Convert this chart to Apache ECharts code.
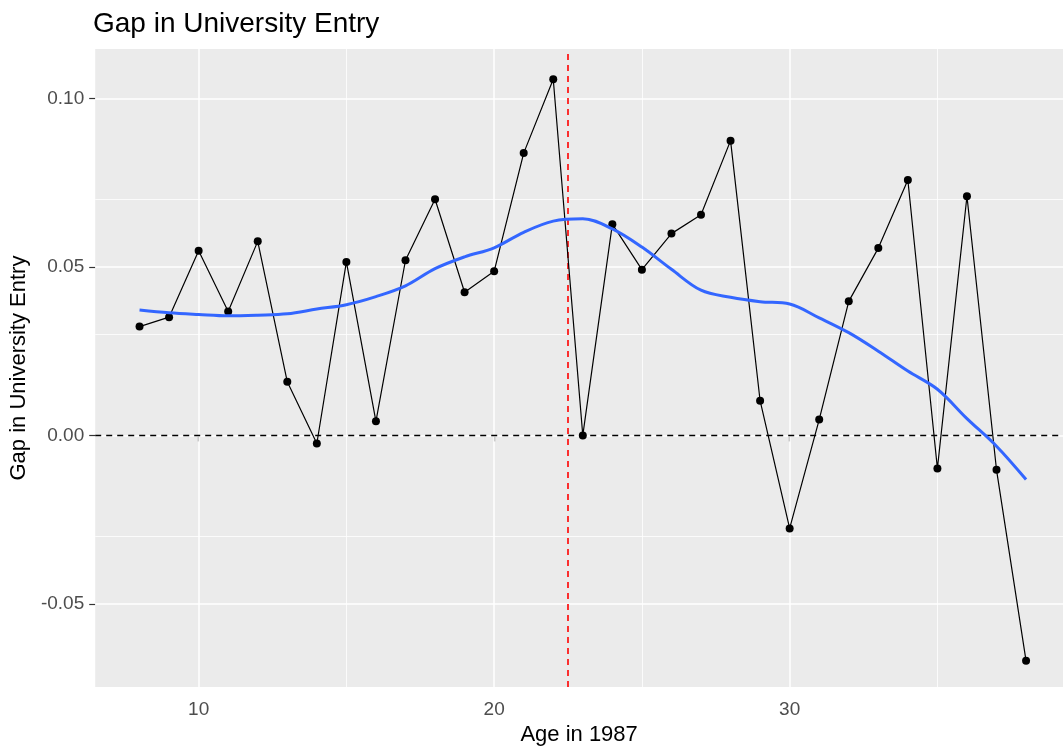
<!DOCTYPE html>
<html>
<head>
<meta charset="utf-8">
<script src="https://cdn.jsdelivr.net/npm/echarts@6/dist/echarts.min.js"></script>
<style>
html,body{margin:0;padding:0;background:#fff;}
#chart{width:1063px;height:751px;}
</style>
</head>
<body>
<div id="chart"></div>
<script>
// ---- data ----
const ages = [8,9,10,11,12,13,14,15,16,17,18,19,20,21,22,23,24,25,26,27,28,29,30,31,32,33,34,35,36,37,38];
const gapValues = [0.0323,0.0351,0.0548,0.0368,0.0576,0.0159,-0.0024,0.0515,0.0042,0.0520,0.0701,0.0425,0.0487,0.0838,0.1057,0.0000,0.0627,0.0492,0.0599,0.0655,0.0875,0.0103,-0.0276,0.0047,0.0398,0.0556,0.0758,-0.0098,0.0710,-0.0102,-0.0669];
const smoothValues = [0.0372,0.0364,0.0359,0.0355,0.0357,0.0361,0.0375,0.0388,0.0412,0.0444,0.0495,0.0530,0.0557,0.0603,0.0636,0.0643,0.0613,0.0559,0.0493,0.0431,0.0410,0.0397,0.0390,0.0349,0.0305,0.0250,0.0191,0.0137,0.0050,-0.0032,-0.0131];
const xTicks = [10,20,30];
const xMinorGrid = [15,25,35];
const yTicks = [-0.05,0,0.05,0.10];
const yTickLabels = ['-0.05','0.00','0.05','0.10'];
const yMinorGrid = [-0.025,0.025,0.075];
const cutoffAge = 22.5;
const zeroLine = 0;

const chart = echarts.init(document.getElementById('chart'), null, {renderer:'canvas'});

const gridLines = [];
xMinorGrid.forEach(v => gridLines.push({xAxis: v, lineStyle:{color:'#fff', width:0.8, type:'solid'}}));
yMinorGrid.forEach(v => gridLines.push({yAxis: v, lineStyle:{color:'#fff', width:0.8, type:'solid'}}));
xTicks.forEach(v => gridLines.push({xAxis: v, lineStyle:{color:'#fff', width:1.5, type:'solid'}}));
yTicks.forEach(v => gridLines.push({yAxis: v, lineStyle:{color:'#fff', width:1.5, type:'solid'}}));

const fontFam = '"Liberation Sans", Arial, sans-serif';

chart.setOption({
  animation: false,
  backgroundColor: '#ffffff',
  title: {
    text: 'Gap in University Entry',
    left: 93, top: 10, padding: 0,
    textStyle: {fontFamily: fontFam, fontSize: 28, fontWeight: 'normal', color: '#000'}
  },
  grid: {
    left: 92.5, top: 49, right: 0, height: 639,
    show: true, backgroundColor: '#EBEBEB', borderWidth: 0
  },
  xAxis: {
    type: 'value', min: 6.5, max: 39.25,
    name: 'Age in 1987', nameLocation: 'middle', nameGap: 36,
    nameTextStyle: {fontFamily: fontFam, fontSize: 22, color: '#000'},
    axisLine: {show: false},
    axisTick: {show: true, customValues: xTicks, length: 6, lineStyle: {color: '#333', width: 1.2}},
    axisLabel: {customValues: xTicks, margin: 13, color: '#4D4D4D', fontFamily: fontFam, fontSize: 19},
    splitLine: {show: false}
  },
  yAxis: {
    type: 'value', min: -0.0747, max: 0.1147,
    name: 'Gap in University Entry', nameLocation: 'middle', nameGap: 50,
    nameTextStyle: {fontFamily: fontFam, fontSize: 22, color: '#000'},
    axisLine: {show: false},
    axisTick: {show: true, customValues: yTicks, length: 6, lineStyle: {color: '#333', width: 1.2}},
    axisLabel: {customValues: yTicks, margin: 11, color: '#4D4D4D', fontFamily: fontFam, fontSize: 19,
      formatter: function (v) { const i = yTicks.findIndex(t => Math.abs(t - v) < 1e-9); return i >= 0 ? yTickLabels[i] : ''; }},
    splitLine: {show: false}
  },
  series: [
    {
      type: 'line', data: [], silent: true, z: 1,
      markLine: {
        silent: true, symbol: ['none','none'], z: 1, animation: false,
        label: {show: false}, emphasis: {disabled: true},
        data: gridLines
      }
    },
    {
      type: 'line', data: [], silent: true, z: 2,
      markLine: {
        silent: true, symbol: ['none','none'], z: 2, animation: false,
        label: {show: false}, emphasis: {disabled: true},
        data: [
          {yAxis: zeroLine, lineStyle: {color: '#000', width: 1.3, type: [6,5]}},
          {xAxis: cutoffAge, lineStyle: {color: '#FF0000', width: 1.6, type: [6,5]}}
        ]
      }
    },
    {
      type: 'line', z: 3,
      data: ages.map((a,i) => [a, gapValues[i]]),
      symbol: 'circle', symbolSize: 8,
      itemStyle: {color: '#000'},
      lineStyle: {color: '#000', width: 1.2},
      emphasis: {disabled: true}
    },
    {
      type: 'line', z: 4,
      data: ages.map((a,i) => [a, smoothValues[i]]),
      smooth: 0.35, showSymbol: false, symbol: 'none',
      lineStyle: {color: '#3366FF', width: 3},
      emphasis: {disabled: true}
    }
  ]
});
</script>
</body>
</html>
